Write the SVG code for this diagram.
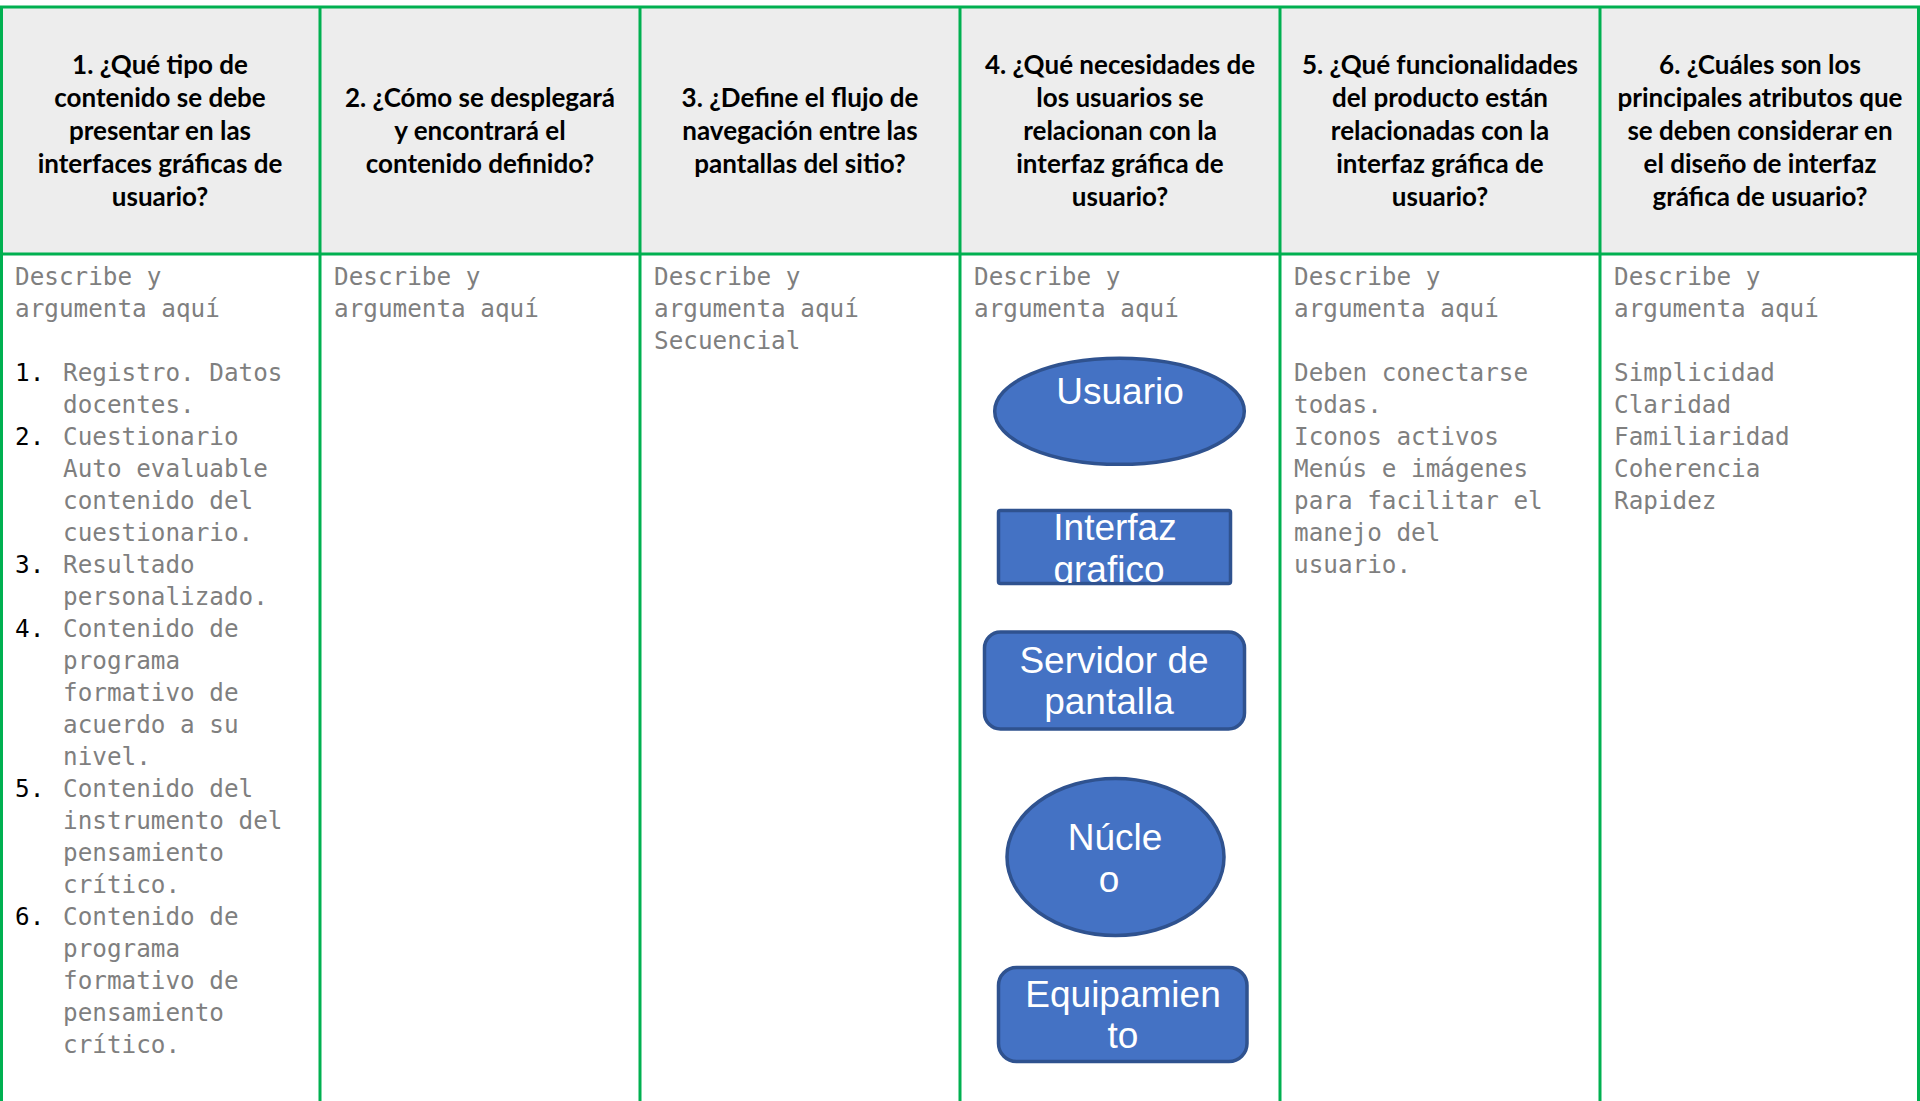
<svg xmlns="http://www.w3.org/2000/svg" width="1920" height="1101" viewBox="0 0 1920 1101">
<style>
.hdr{fill:#ededed}
.grid{stroke:#00b050;stroke-width:3;fill:none}
.h{font-family:Lato,"Open Sans","Liberation Sans",sans-serif;font-weight:700;font-size:26px;fill:#000;text-anchor:middle}
.b{font-family:"DejaVu Sans Mono","Liberation Mono",monospace;font-size:24.3px;fill:#7f7f7f}
.n{fill:#000}
.shape{fill:#4472c4;stroke:#2f528f;stroke-width:3.5}
.st{font-family:"Liberation Sans",Arial,sans-serif;font-size:37px;fill:#fff;text-anchor:middle}
</style>
<defs>
<clipPath id="clipInt"><rect x="998" y="510" width="233" height="73"/></clipPath>
</defs>
<rect width="1920" height="1101" fill="#fff"/>
<rect class="hdr" x="0" y="7" width="1920" height="247"/>

<g id="col1">
<text class="h" x="160" y="74">1. ¿Qué tipo de</text>
<text class="h" x="160" y="107">contenido se debe</text>
<text class="h" x="160" y="140">presentar en las</text>
<text class="h" x="160" y="173">interfaces gráficas de</text>
<text class="h" x="160" y="206">usuario?</text>
<text class="b" x="15" y="285">Describe y</text>
<text class="b" x="15" y="317">argumenta aquí</text>
<text class="b n" x="15" y="381">1.</text><text class="b" x="63" y="381">Registro. Datos</text>
<text class="b" x="63" y="413">docentes.</text>
<text class="b n" x="15" y="445">2.</text><text class="b" x="63" y="445">Cuestionario</text>
<text class="b" x="63" y="477">Auto evaluable</text>
<text class="b" x="63" y="509">contenido del</text>
<text class="b" x="63" y="541">cuestionario.</text>
<text class="b n" x="15" y="573">3.</text><text class="b" x="63" y="573">Resultado</text>
<text class="b" x="63" y="605">personalizado.</text>
<text class="b n" x="15" y="637">4.</text><text class="b" x="63" y="637">Contenido de</text>
<text class="b" x="63" y="669">programa</text>
<text class="b" x="63" y="701">formativo de</text>
<text class="b" x="63" y="733">acuerdo a su</text>
<text class="b" x="63" y="765">nivel.</text>
<text class="b n" x="15" y="797">5.</text><text class="b" x="63" y="797">Contenido del</text>
<text class="b" x="63" y="829">instrumento del</text>
<text class="b" x="63" y="861">pensamiento</text>
<text class="b" x="63" y="893">crítico.</text>
<text class="b n" x="15" y="925">6.</text><text class="b" x="63" y="925">Contenido de</text>
<text class="b" x="63" y="957">programa</text>
<text class="b" x="63" y="989">formativo de</text>
<text class="b" x="63" y="1021">pensamiento</text>
<text class="b" x="63" y="1053">crítico.</text>
</g>

<g id="col2">
<text class="h" x="480" y="107">2. ¿Cómo se desplegará</text>
<text class="h" x="480" y="140">y encontrará el</text>
<text class="h" x="480" y="173">contenido definido?</text>
<text class="b" x="334" y="285">Describe y</text>
<text class="b" x="334" y="317">argumenta aquí</text>
</g>

<g id="col3">
<text class="h" x="800" y="107">3. ¿Define el flujo de</text>
<text class="h" x="800" y="140">navegación entre las</text>
<text class="h" x="800" y="173">pantallas del sitio?</text>
<text class="b" x="654" y="285">Describe y</text>
<text class="b" x="654" y="317">argumenta aquí</text>
<text class="b" x="654" y="349">Secuencial</text>
</g>

<g id="col4">
<text class="h" x="1120" y="74">4. ¿Qué necesidades de</text>
<text class="h" x="1120" y="107">los usuarios se</text>
<text class="h" x="1120" y="140">relacionan con la</text>
<text class="h" x="1120" y="173">interfaz gráfica de</text>
<text class="h" x="1120" y="206">usuario?</text>
<text class="b" x="974" y="285">Describe y</text>
<text class="b" x="974" y="317">argumenta aquí</text>
</g>

<g id="col5">
<text class="h" x="1440" y="74">5. ¿Qué funcionalidades</text>
<text class="h" x="1440" y="107">del producto están</text>
<text class="h" x="1440" y="140">relacionadas con la</text>
<text class="h" x="1440" y="173">interfaz gráfica de</text>
<text class="h" x="1440" y="206">usuario?</text>
<text class="b" x="1294" y="285">Describe y</text>
<text class="b" x="1294" y="317">argumenta aquí</text>
<text class="b" x="1294" y="381">Deben conectarse</text>
<text class="b" x="1294" y="413">todas.</text>
<text class="b" x="1294" y="445">Iconos activos</text>
<text class="b" x="1294" y="477">Menús e imágenes</text>
<text class="b" x="1294" y="509">para facilitar el</text>
<text class="b" x="1294" y="541">manejo del</text>
<text class="b" x="1294" y="573">usuario.</text>
</g>

<g id="col6">
<text class="h" x="1760" y="74">6. ¿Cuáles son los</text>
<text class="h" x="1760" y="107">principales atributos que</text>
<text class="h" x="1760" y="140">se deben considerar en</text>
<text class="h" x="1760" y="173">el diseño de interfaz</text>
<text class="h" x="1760" y="206">gráfica de usuario?</text>
<text class="b" x="1614" y="285">Describe y</text>
<text class="b" x="1614" y="317">argumenta aquí</text>
<text class="b" x="1614" y="381">Simplicidad</text>
<text class="b" x="1614" y="413">Claridad</text>
<text class="b" x="1614" y="445">Familiaridad</text>
<text class="b" x="1614" y="477">Coherencia</text>
<text class="b" x="1614" y="509">Rapidez</text>
</g>

<g id="grid">
<line class="grid" x1="0" y1="7" x2="1920" y2="7"/>
<line class="grid" x1="0" y1="254" x2="1920" y2="254"/>
<line class="grid" x1="1.5" y1="7" x2="1.5" y2="1101"/>
<line class="grid" x1="320" y1="7" x2="320" y2="1101"/>
<line class="grid" x1="640" y1="7" x2="640" y2="1101"/>
<line class="grid" x1="960" y1="7" x2="960" y2="1101"/>
<line class="grid" x1="1280" y1="7" x2="1280" y2="1101"/>
<line class="grid" x1="1600" y1="7" x2="1600" y2="1101"/>
<line class="grid" x1="1918.5" y1="7" x2="1918.5" y2="1101"/>
</g>

<g id="usuario">
<ellipse class="shape" cx="1119.5" cy="411.3" rx="124.8" ry="53"/>
<text class="st" x="1120" y="404">Usuario</text>
</g>

<g id="interfaz">
<rect class="shape" x="998.5" y="510.5" width="232" height="73" rx="2"/>
<g clip-path="url(#clipInt)">
<text class="st" x="1115" y="540">Interfaz</text>
<text class="st" x="1109" y="582">grafico</text>
</g>
</g>

<g id="servidor">
<rect class="shape" x="984.5" y="632" width="260" height="97" rx="16"/>
<text class="st" x="1114" y="673">Servidor de</text>
<text class="st" x="1109" y="714">pantalla</text>
</g>

<g id="nucleo">
<ellipse class="shape" cx="1115.5" cy="857" rx="108.5" ry="78.5"/>
<text class="st" x="1115" y="850">Núcle</text>
<text class="st" x="1109" y="892">o</text>
</g>

<g id="equipamiento">
<rect class="shape" x="998.5" y="967.5" width="248.5" height="94" rx="18"/>
<text class="st" x="1123" y="1007">Equipamien</text>
<text class="st" x="1123" y="1048">to</text>
</g>

<g id="connectors"/>
</svg>
